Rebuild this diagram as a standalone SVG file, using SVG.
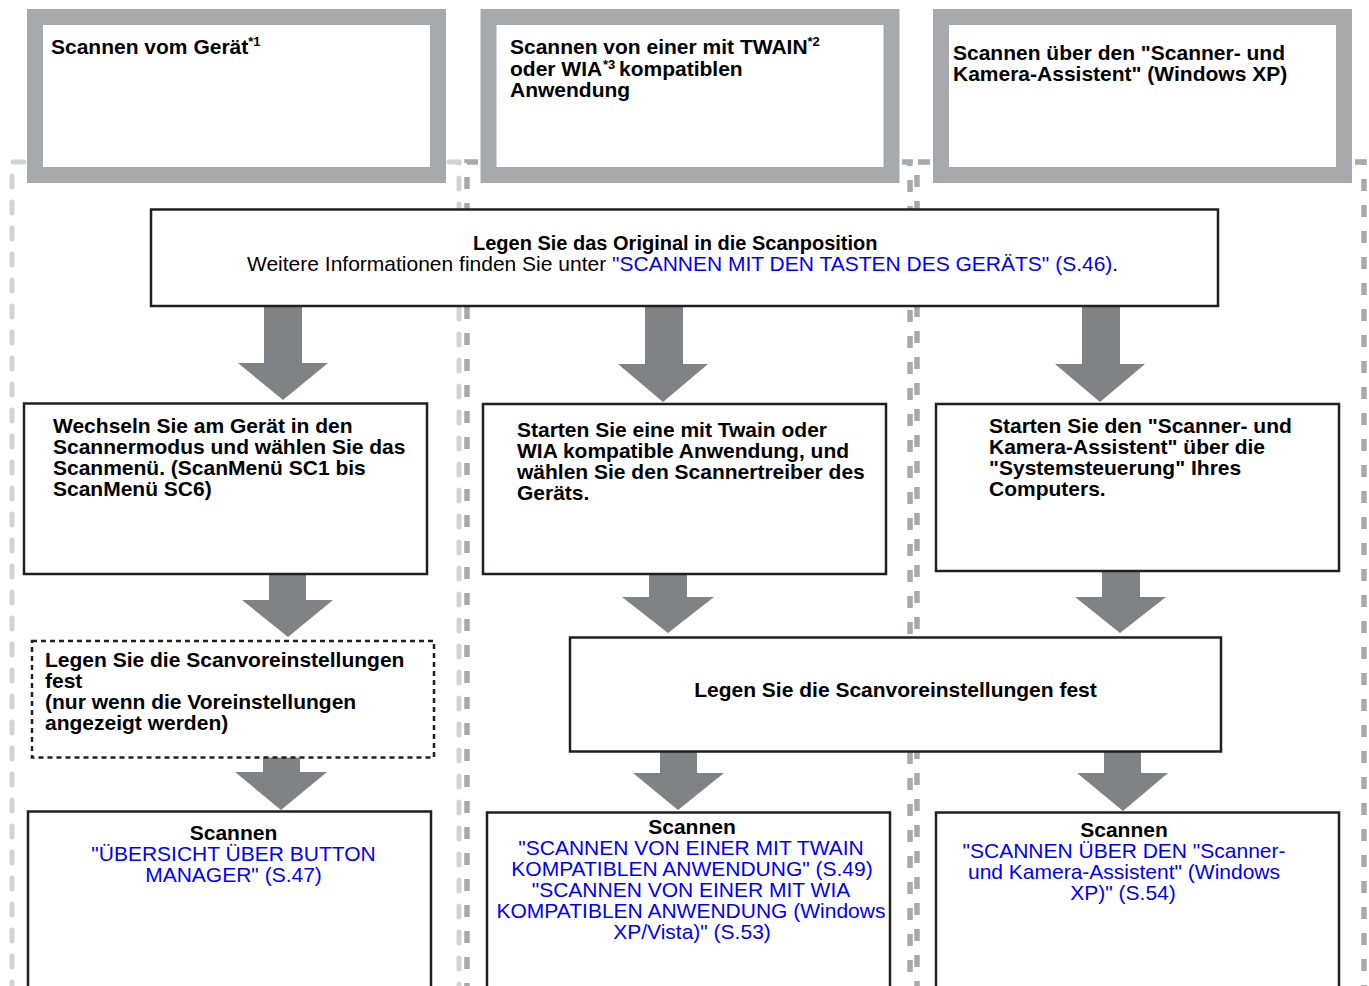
<svg xmlns="http://www.w3.org/2000/svg" width="1369" height="986" viewBox="0 0 1369 986">
<style>
text{font-family:"Liberation Sans",Arial,Helvetica,sans-serif;font-size:21px;fill:#000}
.b{font-weight:bold}
.lnk{fill:#0000ff}
.sup{font-size:13px}
.top{fill:#fff;stroke:#a7a9ac;stroke-width:16}
.box{fill:#fff;stroke:#231f20;stroke-width:2.5}
.dbox{fill:#fff;stroke:#231f20;stroke-width:2.5;stroke-dasharray:5 4}
.lg{fill:none;stroke:#d1d3d4;stroke-width:5;stroke-linecap:round;stroke-dasharray:11 15}
.dg{fill:none;stroke:#a7a9ac;stroke-width:5.5;stroke-dasharray:12 14}
.arr{fill:#808285}
</style>
<g id="separators">
<path class="lg" d="M24,162 H12 V990"/>
<path class="lg" d="M449,162 H459 V990"/>
<path class="dg" d="M478,162 H467 V990"/>
<path class="dg" d="M902,162 H910 V990"/>
<path class="dg" d="M930,162 H917 V990"/>
<path class="dg" d="M1355,162 H1364 V990"/>
</g>
<g id="n-top1">
<rect class="top" x="35" y="17" width="403" height="158"/>
<text class="b" x="51" y="54">Scannen vom Gerät<tspan class="sup" dy="-8">*1</tspan></text>
</g>
<g id="n-top2">
<rect class="top" x="488.5" y="17" width="403" height="158"/>
<text class="b" x="510" y="54">Scannen von einer mit TWAIN<tspan class="sup" dy="-8">*2</tspan></text>
<text class="b" x="510" y="76">oder WIA</text>
<text class="b sup" x="603" y="69">*3</text>
<text class="b" x="619" y="76">kompatiblen</text>
<text class="b" x="510" y="97">Anwendung</text>
</g>
<g id="n-top3">
<rect class="top" x="941" y="17" width="403" height="158"/>
<text class="b" x="953" y="60">Scannen über den "Scanner- und</text>
<text class="b" x="953" y="81">Kamera-Assistent" (Windows XP)</text>
</g>
<g id="connectors">
<path class="arr" d="M264,305 H302 V363 H328 L283,400 L238,363 H264 Z"/>
<path class="arr" d="M645,305 H683 V364 H708 L663,402 L618,364 H645 Z"/>
<path class="arr" d="M1082,305 H1120 V364 H1145 L1100,402 L1055,364 H1082 Z"/>
<path class="arr" d="M269,573 H306 V600 H333 L288,637 L242,600 H269 Z"/>
<path class="arr" d="M263,757 H300 V772 H327 L281,810 L235,772 H263 Z"/>
<path class="arr" d="M649,573 H687 V597 H714 L668,633 L622,597 H649 Z"/>
<path class="arr" d="M1102,570 H1140 V597 H1166 L1120,633 L1075,597 H1102 Z"/>
<path class="arr" d="M660,751 H697 V773 H724 L678,810 L633,773 H660 Z"/>
<path class="arr" d="M1104,751 H1141 V773 H1168 L1123,811 L1077,773 H1104 Z"/>
</g>
<g id="n-original">
<rect class="box" x="151" y="209.5" width="1067" height="96.5"/>
<text class="b" x="473" y="250" style="font-size:20px">Legen Sie das Original in die Scanposition</text>
<text x="247" y="271">Weitere Informationen finden Sie unter <tspan class="lnk">"SCANNEN MIT DEN TASTEN DES GERÄTS" (S.46)</tspan>.</text>
</g>
<g id="n-col1-step">
<rect class="box" x="24" y="403.5" width="403" height="170.5"/>
<text class="b" x="53" y="433">Wechseln Sie am Gerät in den</text>
<text class="b" x="53" y="454">Scannermodus und wählen Sie das</text>
<text class="b" x="53" y="475">Scanmenü. (ScanMenü SC1 bis</text>
<text class="b" x="53" y="496">ScanMenü SC6)</text>
</g>
<g id="n-col2-step">
<rect class="box" x="483" y="404" width="403" height="170"/>
<text class="b" x="517" y="437">Starten Sie eine mit Twain oder</text>
<text class="b" x="517" y="458">WIA kompatible Anwendung, und</text>
<text class="b" x="517" y="479">wählen Sie den Scannertreiber des</text>
<text class="b" x="517" y="500">Geräts.</text>
</g>
<g id="n-col3-step">
<rect class="box" x="936" y="404" width="403" height="167"/>
<text class="b" x="989" y="433">Starten Sie den "Scanner- und</text>
<text class="b" x="989" y="454">Kamera-Assistent" über die</text>
<text class="b" x="989" y="475">"Systemsteuerung" Ihres</text>
<text class="b" x="989" y="496">Computers.</text>
</g>
<g id="n-col1-settings">
<rect class="dbox" x="32" y="641" width="402" height="116.5"/>
<text class="b" x="45" y="667">Legen Sie die Scanvoreinstellungen</text>
<text class="b" x="45" y="688">fest</text>
<text class="b" x="45" y="709">(nur wenn die Voreinstellungen</text>
<text class="b" x="45" y="730">angezeigt werden)</text>
</g>
<g id="n-settings">
<rect class="box" x="570" y="637.5" width="651" height="114"/>
<text class="b" x="895.5" y="697" text-anchor="middle">Legen Sie die Scanvoreinstellungen fest</text>
</g>
<g id="n-col1-scan">
<rect class="box" x="28" y="811.5" width="403" height="190"/>
<text class="b" x="233.5" y="840" text-anchor="middle">Scannen</text>
<text class="lnk" x="233.5" y="861" text-anchor="middle">"ÜBERSICHT ÜBER BUTTON</text>
<text class="lnk" x="233.5" y="882" text-anchor="middle">MANAGER" (S.47)</text>
</g>
<g id="n-col2-scan">
<rect class="box" x="487" y="812.5" width="403" height="190"/>
<text class="b" x="692" y="834" text-anchor="middle">Scannen</text>
<text class="lnk" x="691" y="855" text-anchor="middle">"SCANNEN VON EINER MIT TWAIN</text>
<text class="lnk" x="692" y="876" text-anchor="middle">KOMPATIBLEN ANWENDUNG" (S.49)</text>
<text class="lnk" x="691" y="897" text-anchor="middle">"SCANNEN VON EINER MIT WIA</text>
<text class="lnk" x="691" y="918" text-anchor="middle">KOMPATIBLEN ANWENDUNG (Windows</text>
<text class="lnk" x="692" y="939" text-anchor="middle">XP/Vista)" (S.53)</text>
</g>
<g id="n-col3-scan">
<rect class="box" x="936" y="812.5" width="403" height="190"/>
<text class="b" x="1124" y="837" text-anchor="middle">Scannen</text>
<text class="lnk" x="1124" y="858" text-anchor="middle">"SCANNEN ÜBER DEN "Scanner-</text>
<text class="lnk" x="1124" y="879" text-anchor="middle">und Kamera-Assistent" (Windows</text>
<text class="lnk" x="1123" y="900" text-anchor="middle">XP)" (S.54)</text>
</g>
</svg>
